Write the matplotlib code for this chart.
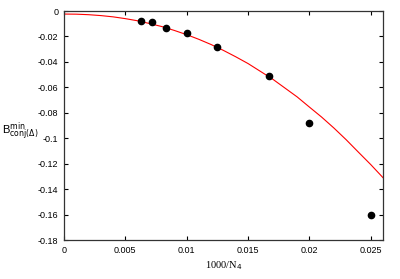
import matplotlib
matplotlib.use("Agg")
import matplotlib.pyplot as plt

# data points: x = 1000/N4
x_pts = [0.00625, 0.00714, 0.00833, 0.0100, 0.0125, 0.01667, 0.0200, 0.0250]
y_pts = [-0.0076, -0.0084, -0.0136, -0.0173, -0.0286, -0.0510, -0.0880, -0.1600]

# fit curve
x_fit = [0.000, 0.001, 0.002, 0.003, 0.004, 0.005, 0.006, 0.007, 0.008, 0.009,
         0.010, 0.011, 0.012, 0.013, 0.014, 0.015, 0.016, 0.017, 0.018, 0.019,
         0.020, 0.021, 0.022, 0.023, 0.024, 0.025, 0.026]
y_fit = [-0.0024, -0.0025, -0.0029, -0.0036, -0.0046, -0.0060, -0.0077, -0.0099,
         -0.0123, -0.0153, -0.0186, -0.0223, -0.0264, -0.0310, -0.0360, -0.0413,
         -0.0474, -0.0535, -0.0605, -0.0675, -0.0755, -0.0834, -0.0920, -0.1012,
         -0.1110, -0.1207, -0.1310]

xticks = [0, 0.005, 0.01, 0.015, 0.02, 0.025]
xtick_labels = ["0", "0.005", "0.01", "0.015", "0.02", "0.025"]
yticks = [0, -0.02, -0.04, -0.06, -0.08, -0.1, -0.12, -0.14, -0.16, -0.18]
ytick_labels = ["0", "-0.02", "-0.04", "-0.06", "-0.08", "-0.1", "-0.12", "-0.14", "-0.16", "-0.18"]

plt.rcParams["font.family"] = ["Liberation Sans", "DejaVu Sans"]

fig = plt.figure(figsize=(4.0, 2.79), dpi=100)
ax = fig.add_axes([64 / 400, 1 - 240 / 279, 319 / 400, 229 / 279])

ax.plot(x_fit, y_fit, color="red", lw=0.8)
ax.plot(x_pts, y_pts, "o", color="black", ms=4.5)

ax.set_xlim(0, 0.026)
ax.set_ylim(-0.18, 0)
ax.set_xticks(xticks)
ax.set_xticklabels(xtick_labels)
ax.set_yticks(yticks)
ax.set_yticklabels(ytick_labels)
ax.tick_params(direction="in", top=True, right=True, labelsize=6.5, length=3, width=0.8, pad=4)
for s in ax.spines.values():
    s.set_linewidth(0.9)
    s.set_color("#333333")

ax.set_xlabel("1000/N$_4$", family=["Liberation Serif"], fontsize=7.5, labelpad=3)
ax.set_ylabel(r"B$^{\rm min}_{\rm conj(\Delta)}$", rotation=0, fontsize=8, ha="left", va="center")
ax.yaxis.set_label_coords(-0.195, 0.47)

fig.savefig("out.png", dpi=100)
